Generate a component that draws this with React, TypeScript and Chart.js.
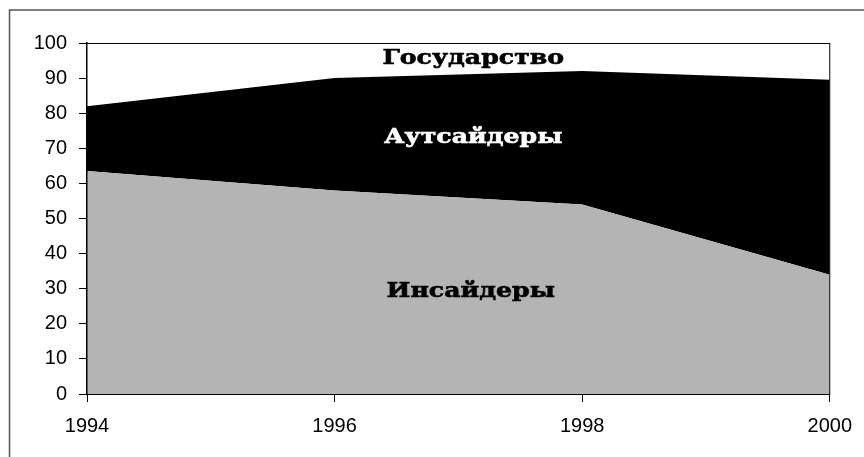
import React, { useEffect, useRef } from "react";
import { Chart, registerables } from "chart.js";

Chart.register(...registerables);

const years = ["1994", "1996", "1998", "2000"];
const insiders = [63.5, 58, 54, 34];
const outsiders = [18.5, 32, 38, 55.5];
const state = [18, 10, 8, 10.5];
const yTicks = [0, 10, 20, 30, 40, 50, 60, 70, 80, 90, 100];

const areaLabels = [
  { text: "Государство", pos: 1.56, value: 95.6, color: "#000000" },
  { text: "Аутсайдеры", pos: 1.56, value: 73.2, color: "#ffffff" },
  { text: "Инсайдеры", pos: 1.55, value: 29.2, color: "#000000" },
];

const framePlugin = {
  id: "frame",
  beforeDraw(chart: any) {
    const ctx = chart.ctx;
    ctx.save();
    ctx.fillStyle = "#ffffff";
    ctx.fillRect(0, 0, chart.width, chart.height);
    ctx.strokeStyle = "#555555";
    ctx.lineWidth = 1.5;
    ctx.strokeRect(9.5, 10, chart.width + 20, chart.height + 20);
    ctx.restore();
  },
  afterDatasetsDraw(chart: any) {
    const ctx = chart.ctx;
    const { left, right, top, bottom } = chart.chartArea;
    const ys = chart.scales.y;
    ctx.save();
    ctx.strokeStyle = "#000000";
    ctx.lineWidth = 1;
    ctx.strokeRect(left, top + 0.5, right - left, bottom - top);
    ctx.font = "bold 21px 'DejaVu Serif'";
    ctx.textAlign = "center";
    ctx.textBaseline = "middle";
    const n = years.length - 1;
    for (const l of areaLabels) {
      const x = left + ((right - left) * l.pos) / n;
      const y = ys.getPixelForValue(l.value);
      ctx.save();
      ctx.translate(x, y);
      ctx.scale(1.2, 1);
      ctx.fillStyle = l.color;
      ctx.strokeStyle = l.color;
      ctx.lineWidth = 0.6;
      ctx.fillText(l.text, 0, 0);
      ctx.strokeText(l.text, 0, 0);
      ctx.restore();
    }
    ctx.restore();
  },
};

export default function App() {
  const ref = useRef<HTMLCanvasElement>(null);
  useEffect(() => {
    document.body.style.margin = "0";
    const chart = new Chart(ref.current!, {
      type: "line",
      data: {
        labels: years,
        datasets: [
          { label: "Инсайдеры", data: insiders, backgroundColor: "#b4b4b4", borderWidth: 0, pointRadius: 0, fill: "origin", tension: 0 },
          { label: "Аутсайдеры", data: outsiders, backgroundColor: "#000000", borderWidth: 0, pointRadius: 0, fill: "-1", tension: 0 },
          { label: "Государство", data: state, backgroundColor: "#ffffff", borderWidth: 0, pointRadius: 0, fill: "-1", tension: 0 },
        ],
      },
      options: {
        animation: false,
        responsive: false,
        layout: { padding: { top: 43, right: 33, left: 0, bottom: 0 } },
        plugins: { legend: { display: false }, tooltip: { enabled: false } },
        scales: {
          x: {
            type: "category",
            offset: false,
            grid: { drawOnChartArea: false, drawTicks: true, tickLength: 8, color: "#000000" },
            border: { display: true, color: "#000000", width: 1.5 },
            ticks: { color: "#000000", font: { family: "'Liberation Sans', Arial", size: 20 }, padding: 12, maxRotation: 0 },
            afterFit(s: any) { s.height = 63; },
          },
          y: {
            stacked: true,
            min: 0,
            max: 100,
            afterBuildTicks(s: any) { s.ticks = yTicks.map((v) => ({ value: v })); },
            grid: { drawOnChartArea: false, drawTicks: true, tickLength: 8, color: "#000000" },
            border: { display: true, color: "#000000", width: 1.5 },
            ticks: { color: "#000000", font: { family: "'Liberation Sans', Arial", size: 20 }, padding: 12 },
            afterFit(s: any) { s.width = 87; },
          },
        },
      },
      plugins: [framePlugin],
    });
    return () => chart.destroy();
  }, []);
  return <canvas ref={ref} width={864} height={457} style={{ display: "block" }} />;
}
